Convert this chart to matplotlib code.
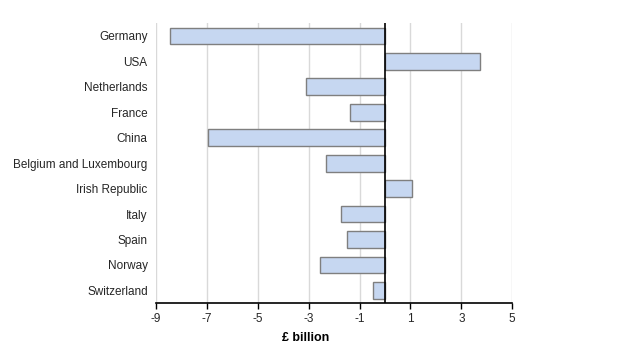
import matplotlib.pyplot as plt

countries = ['Germany', 'USA', 'Netherlands', 'France', 'China',
             'Belgium and Luxembourg', 'Irish Republic', 'Italy', 'Spain',
             'Norway', 'Switzerland']
balance = [-8.45, 3.73, -3.09, -1.38, -6.97, -2.31, 1.06, -1.74, -1.49,
           -2.55, -0.46]
xticks = [-9, -7, -5, -3, -1, 1, 3, 5]

plt.rcParams['font.family'] = ['Liberation Sans', 'DejaVu Sans']
plt.rcParams['text.color'] = '#262626'
plt.rcParams['xtick.labelcolor'] = '#262626'
plt.rcParams['ytick.labelcolor'] = '#262626'

fig = plt.figure(figsize=(6.34, 3.57), dpi=100)
ax = fig.add_axes([0.246, 0.151, 0.562, 0.784])

ypos = list(range(len(countries)))
ax.barh(ypos, balance, height=0.66, color='#c6d7f1', edgecolor='#7f7f7f',
        linewidth=1.0, zorder=3)

ax.set_xlim(-9, 5)
ax.set_ylim(len(countries) - 0.5, -0.5)
ax.set_xticks(xticks)
ax.set_xticklabels([str(t) for t in xticks], fontsize=8.5)
ax.set_yticks(ypos)
ax.set_yticklabels(countries, fontsize=8.5)
ax.tick_params(axis='y', length=0, pad=6)
ax.tick_params(axis='x', length=4, width=1, color='black', pad=3)

for t in xticks:
    ax.axvline(t, color='#d9d9d9', linewidth=1, zorder=1)
ax.axvline(0, color='black', linewidth=1.2, zorder=4)

for s in ['top', 'right', 'left']:
    ax.spines[s].set_visible(False)
ax.spines['bottom'].set_linewidth(1.2)

ax.set_xlabel('£ billion', fontsize=9, fontweight='bold')
ax.xaxis.set_label_coords(0.419, -0.105)

fig.savefig('out.png', dpi=100)
